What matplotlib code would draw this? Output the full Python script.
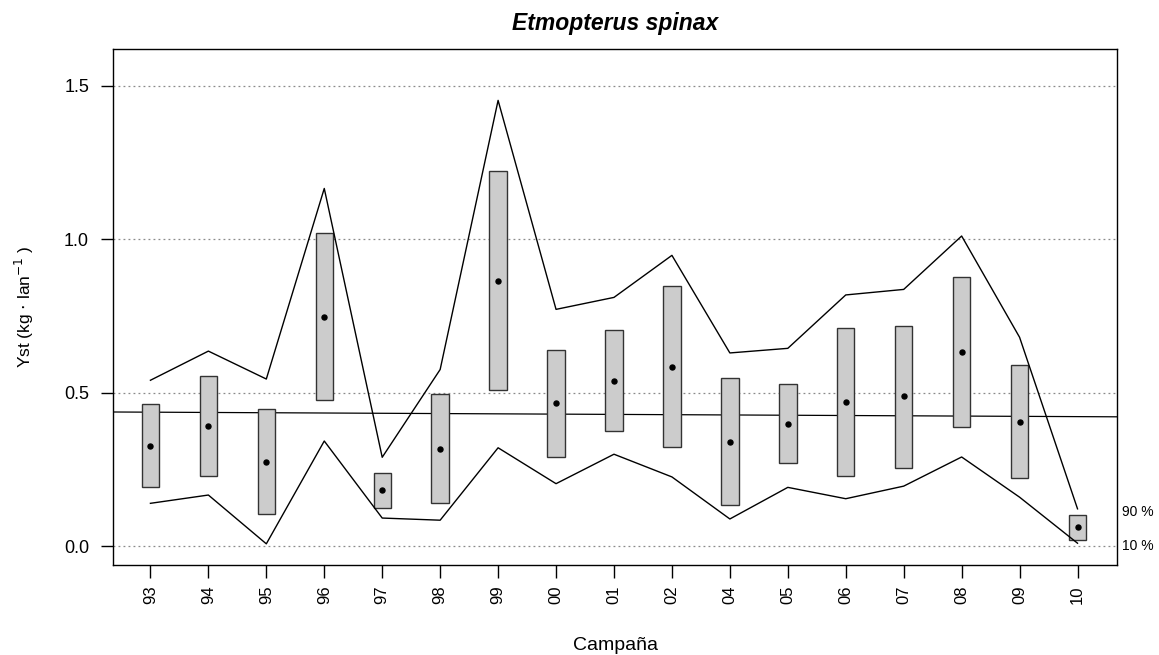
import matplotlib
matplotlib.use("Agg")
import matplotlib.pyplot as plt
import matplotlib.transforms as mtransforms
import numpy as np

plt.rcParams['font.family'] = ['Liberation Sans', 'DejaVu Sans']

campaigns = ["93", "94", "95", "96", "97", "98", "99", "00", "01", "02",
             "04", "05", "06", "07", "08", "09", "10"]
mean_val = [0.326, 0.392, 0.274, 0.748, 0.184, 0.318, 0.866, 0.466, 0.537,
            0.585, 0.340, 0.400, 0.469, 0.489, 0.632, 0.404, 0.062]
box_top = [0.463, 0.556, 0.447, 1.021, 0.240, 0.496, 1.222, 0.640, 0.704,
           0.848, 0.547, 0.530, 0.712, 0.719, 0.877, 0.590, 0.103]
box_bottom = [0.192, 0.229, 0.104, 0.478, 0.126, 0.140, 0.508, 0.292, 0.375,
              0.324, 0.134, 0.270, 0.229, 0.255, 0.389, 0.223, 0.021]
upper_90 = [0.541, 0.636, 0.545, 1.166, 0.290, 0.576, 1.453, 0.772, 0.811,
            0.948, 0.630, 0.645, 0.819, 0.837, 1.011, 0.681, 0.122]
lower_10 = [0.140, 0.167, 0.008, 0.343, 0.092, 0.085, 0.321, 0.204, 0.300,
            0.226, 0.089, 0.192, 0.155, 0.196, 0.291, 0.160, 0.010]
trend_first_last = [0.437, 0.4225]
y_ticks = [0.0, 0.5, 1.0, 1.5]
y_tick_labels = ["0.0", "0.5", "1.0", "1.5"]

fig = plt.figure(figsize=(11.59, 6.55), dpi=100)
ax = fig.add_axes([0.0978, 0.1374, 0.8659, 0.7876])

x = np.arange(len(campaigns))

for yv in y_ticks:
    ax.axhline(yv, color="#8a8a8a", linestyle=(0, (1.5, 2.5)), linewidth=0.9, zorder=1)

ax.axline((x[0], trend_first_last[0]), (x[-1], trend_first_last[1]),
          color="black", linewidth=0.9, zorder=2)

ax.bar(x, np.array(box_top) - np.array(box_bottom), bottom=box_bottom, width=0.3,
       color="#cccccc", edgecolor="#333333", linewidth=1.0, zorder=3)

ax.plot(x, upper_90, color="black", linewidth=1.0, zorder=4)
ax.plot(x, lower_10, color="black", linewidth=1.0, zorder=4)
ax.plot(x, mean_val, "o", color="black", markersize=3.6, zorder=5)

ax.set_xlim(-0.64, 16.68)
ax.set_ylim(-0.061, 1.62)
ax.set_xticks(x)
ax.set_xticklabels(campaigns, rotation=90, fontsize=12)
ax.set_yticks(y_ticks)
ax.set_yticklabels(y_tick_labels, fontsize=13)
ax.tick_params(axis="both", direction="out", length=9, width=1)
ax.tick_params(axis="y", pad=8.5)
ax.tick_params(axis="x", pad=5.5)
for s in ax.spines.values():
    s.set_linewidth(1)

trans = mtransforms.blended_transform_factory(ax.transAxes, ax.transData)
ax.text(1.005, upper_90[-1] - 0.01, "90 %", transform=trans, fontsize=10, va="center", ha="left")
ax.text(1.005, lower_10[-1] - 0.01, "10 %", transform=trans, fontsize=10, va="center", ha="left")

ax.set_title("Etmopterus spinax", fontsize=16.5, fontweight="bold", fontstyle="italic", pad=14)
ax.set_xlabel("Campaña", fontsize=14, labelpad=24)
ax.set_ylabel(r"Yst (kg $\cdot$ lan$^{-1}$ )", fontsize=12.5, labelpad=20)

fig.savefig("out.png", dpi=100)
